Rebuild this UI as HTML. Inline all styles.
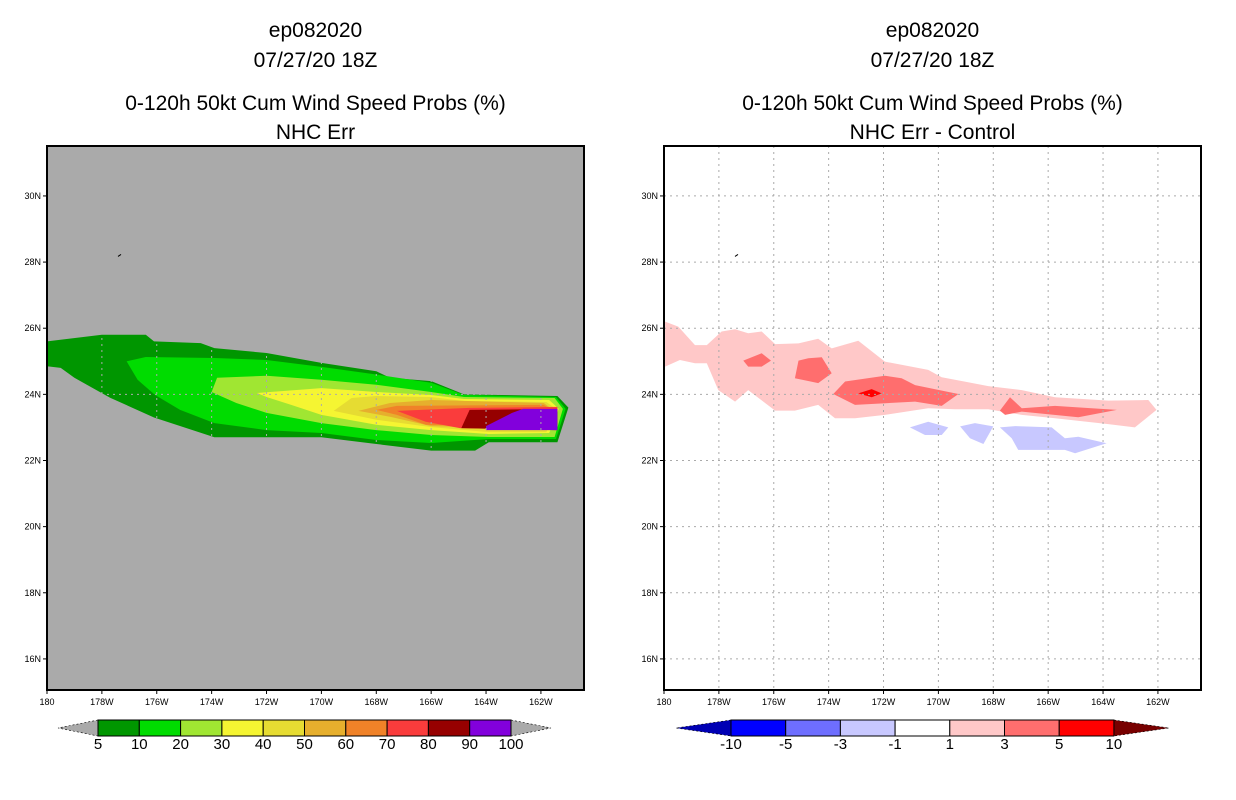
<!DOCTYPE html>
<html><head><meta charset="utf-8">
<style>
body{margin:0;background:#fff;}
svg{display:block;font-family:"Liberation Sans",sans-serif;}
.t{font-size:21px;fill:#000;text-anchor:middle;}
.ax{font-size:9px;fill:#000;}
.cb{font-size:15px;fill:#000;text-anchor:middle;}
</style></head>
<body>
<svg id="chart" width="1236" height="800" viewBox="0 0 1236 800"></svg>
<script>
// ---- axis data ----
const lonTicks = [-180,-178,-176,-174,-172,-170,-168,-166,-164,-162];
const lonTickLabels = ["180","178W","176W","174W","172W","170W","168W","166W","164W","162W"];
const latTicks = [16,18,20,22,24,26,28,30];
const latTickLabels = ["16N","18N","20N","22N","24N","26N","28N","30N"];
// ---- left panel: probability contours (lon, lat) ----
const probLevels = ["5","10","20","30","40","50","60","70","80","90","100"];
const probColors = ["#009600","#00dc00","#a0e632","#f5f532","#e6dc32","#e6af2d","#f08228","#fa3c3c","#960000","#8200dc"];
const prob5 = [[-180,25.6],[-178,25.8],[-176.4,25.8],[-176.1,25.6],[-174.4,25.55],[-173.9,25.4],[-172,25.25],[-170,24.95],[-168,24.7],[-167.5,24.5],[-166,24.4],[-164.8,24.0],[-161.4,23.95],[-161,23.6],[-161.4,22.55],[-163.9,22.55],[-164.4,22.3],[-166,22.3],[-168,22.5],[-170,22.7],[-172,22.7],[-173.9,22.7],[-176.1,23.3],[-177.7,23.9],[-179,24.5],[-179.5,24.8],[-180,24.85]];
const prob10 = [[-177.1,25.0],[-176.4,25.13],[-173.9,25.1],[-172,25.04],[-170,24.83],[-168,24.6],[-166,24.35],[-164.8,23.98],[-161.45,23.92],[-161.1,23.56],[-161.45,22.65],[-163.9,22.65],[-166,22.53],[-168,22.62],[-170,22.83],[-172,22.92],[-173.9,23.13],[-175.15,23.53],[-176.06,23.98],[-176.7,24.44]];
const prob20 = [[-173.8,24.5],[-172,24.56],[-170,24.44],[-168,24.29],[-166,24.07],[-164.8,23.92],[-161.5,23.89],[-161.2,23.56],[-161.5,22.71],[-163.9,22.71],[-166,22.77],[-168,22.92],[-170,23.13],[-172,23.44],[-173.1,23.74],[-174.0,24.07]];
const prob30 = [[-172.35,24.04],[-170,24.19],[-168,24.07],[-166,23.98],[-164.8,23.86],[-161.7,23.83],[-161.35,23.56],[-161.7,22.83],[-163.9,22.8],[-166,22.92],[-168,23.08],[-170,23.38],[-171.1,23.68],[-172,23.92]];
const prob40 = [[-169.55,23.5],[-168.9,23.89],[-168,23.95],[-166,23.92],[-164.8,23.8],[-161.8,23.77],[-161.45,23.56],[-161.8,22.86],[-163.9,22.86],[-166,23.01],[-168,23.23]];
const prob50 = [[-168.65,23.5],[-167.5,23.74],[-166,23.83],[-161.9,23.74],[-161.6,23.56],[-161.9,22.95],[-166,23.04],[-167.5,23.32]];
const prob60 = [[-168,23.53],[-167.25,23.65],[-161.9,23.68],[-161.65,23.56],[-161.9,23.01],[-166.2,23.08],[-167.25,23.38]];
const prob70 = [[-167.25,23.5],[-164.6,23.59],[-161.4,23.62],[-161.4,22.92],[-164.95,22.98],[-166.2,23.17]];
const prob80 = [[-164.6,23.53],[-161.4,23.56],[-161.4,22.92],[-164.9,22.98]];
const prob90 = [[-164.0,23.04],[-163.05,23.44],[-162.65,23.56],[-161.4,23.56],[-161.4,22.92],[-164.0,22.92]];
// ---- right panel: difference contours ----
const diffLevels = ["-10","-5","-3","-1","1","3","5","10"];
const diffColors = ["#0000b4","#0000ff","#6e6eff","#c8c8ff","#ffffff","#ffc8c8","#ff6e6e","#ff0000","#780000"];
const diffPos1 = [[-179.96,26.2],[-179.48,26.05],[-178.87,25.49],[-178.44,25.49],[-177.9,25.9],[-177.41,25.97],[-176.93,25.85],[-176.44,25.9],[-175.95,25.52],[-175.1,25.54],[-174.38,25.68],[-173.89,25.39],[-172.92,25.62],[-171.95,24.99],[-170.37,24.74],[-169.88,24.52],[-168.18,24.25],[-166.96,24.13],[-165.75,23.91],[-163.81,23.81],[-162.35,23.83],[-162.05,23.53],[-162.84,23.0],[-163.81,23.1],[-165.75,23.28],[-166.96,23.38],[-168.18,23.55],[-169.4,23.55],[-170.37,23.58],[-171.95,23.38],[-173.04,23.28],[-173.77,23.28],[-174.38,23.68],[-175.23,23.51],[-175.95,23.51],[-176.93,24.13],[-177.41,23.78],[-178.02,24.13],[-178.44,24.94],[-178.87,24.94],[-179.42,25.04],[-179.96,24.84]];
const diffPos3a = [[-177.11,25.02],[-176.44,25.24],[-176.1,25.02],[-176.44,24.84],[-176.93,24.84]];
const diffPos3b = [[-175.1,25.02],[-174.74,25.09],[-174.25,25.12],[-173.89,24.64],[-174.38,24.34],[-175.23,24.49]];
const diffPos3c = [[-173.83,24.01],[-173.4,24.39],[-171.95,24.56],[-171.34,24.49],[-170.85,24.28],[-169.27,24.01],[-169.88,23.65],[-170.85,23.78],[-173.04,23.68]];
const diffPos3d = [[-167.76,23.51],[-167.39,23.91],[-166.96,23.58],[-165.75,23.65],[-163.5,23.53],[-164.9,23.31],[-166.96,23.48],[-167.57,23.38]];
const diffPos5 = [[-172.92,24.03],[-172.43,24.16],[-172.07,24.03],[-172.43,23.91]];
const diffNegA = [[-171.04,23.0],[-170.37,23.17],[-169.64,23.0],[-169.88,22.77],[-170.49,22.77]];
const diffNegB = [[-169.21,23.03],[-168.67,23.13],[-168.0,23.03],[-168.36,22.5],[-168.85,22.67]];
const diffNegC = [[-167.76,23.0],[-167.21,23.04],[-165.87,23.0],[-165.39,22.67],[-164.9,22.72],[-163.87,22.52],[-165.02,22.22],[-165.39,22.32],[-167.09,22.32],[-167.33,22.67]];

const NS="http://www.w3.org/2000/svg";
const svg=document.getElementById('chart');
function el(tag,attrs,parent){const e=document.createElementNS(NS,tag);for(const k in attrs)e.setAttribute(k,attrs[k]);(parent||svg).appendChild(e);return e;}
const LON0=-180, LON1=-160.43, LAT0=15.06, LAT1=31.51, W=537, H=544, TOP=146;
function makeScales(x0){
  return {x:lon=>x0+(lon-LON0)/(LON1-LON0)*W, y:lat=>TOP+(LAT1-lat)/(LAT1-LAT0)*H};
}
function poly(pts,s,fill,name,g){
  const p=el('polygon',{points:pts.map(q=>s.x(q[0]).toFixed(1)+','+s.y(q[1]).toFixed(1)).join(' '),fill:fill},g);
  
  
}
function text(x,y,str,cls,name,g,anchor){
  const t=el('text',{x:x,y:y,class:cls},g);if(anchor)t.setAttribute('text-anchor',anchor);t.textContent=str;
  
  
  return t;
}
function panel(x0,bg,titles,polys,pname){
  const g=el('g',{});
  
  
  const s=makeScales(x0), cx=x0+W/2;
  text(cx,37,titles[0],'t','storm-id-title',g);
  text(cx,67,titles[1],'t','date-title',g);
  text(cx,110,titles[2],'t','product-title',g);
  text(cx,139,titles[3],'t','subtitle',g);
  const r=el('rect',{x:x0,y:TOP,width:W,height:H,fill:bg},g);
  
  
  polys.forEach(p=>poly(p[0],s,p[1],p[2],g));
  lonTicks.forEach((lo,i)=>{
    const x=s.x(lo);
    if(i>0){const l=el('line',{x1:x,x2:x,y1:TOP,y2:TOP+H,stroke:'#aaa','stroke-dasharray':'2,4'},g);
      }
    el('line',{x1:x,x2:x,y1:TOP+H,y2:TOP+H+4,stroke:'#000'},g);
    text(x,TOP+H+15,lonTickLabels[i],'ax','x-tick-label',g,'middle');
  });
  latTicks.forEach((la,i)=>{
    const y=s.y(la);
    const l=el('line',{x1:x0,x2:x0+W,y1:y,y2:y,stroke:'#aaa','stroke-dasharray':'2,4'},g);
    
    el('line',{x1:x0-4,x2:x0,y1:y,y2:y,stroke:'#000'},g);
    text(x0-6,y+3,latTickLabels[i],'ax','y-tick-label',g,'end');
  });
  el('line',{x1:x0+71,y1:s.y(28.2)+1,x2:x0+74,y2:s.y(28.2)-1,stroke:'#000'},g);
  const b=el('rect',{x:x0,y:TOP,width:W,height:H,fill:'none',stroke:'#000','stroke-width':2},g);
  
}
panel(47,'#aaaaaa',["ep082020","07/27/20 18Z","0-120h 50kt Cum Wind Speed Probs (%)","NHC Err"],
 [[prob5,probColors[0],'contour-5'],[prob10,probColors[1],'contour-10'],[prob20,probColors[2],'contour-20'],[prob30,probColors[3],'contour-30'],[prob40,probColors[4],'contour-40'],[prob50,probColors[5],'contour-50'],[prob60,probColors[6],'contour-60'],[prob70,probColors[7],'contour-70'],[prob80,probColors[8],'contour-80'],[prob90,probColors[9],'contour-90']],'left-panel');
panel(664,'#ffffff',["ep082020","07/27/20 18Z","0-120h 50kt Cum Wind Speed Probs (%)","NHC Err - Control"],
 [[diffPos1,diffColors[5],'diff-pos-1'],[diffPos3a,diffColors[6],'diff-pos-3'],[diffPos3b,diffColors[6],'diff-pos-3'],[diffPos3c,diffColors[6],'diff-pos-3'],[diffPos3d,diffColors[6],'diff-pos-3'],[diffPos5,diffColors[7],'diff-pos-5'],[diffNegA,diffColors[3],'diff-neg-1'],[diffNegB,diffColors[3],'diff-neg-1'],[diffNegC,diffColors[3],'diff-neg-1']],'right-panel');

function colorbar(x0,boxW,cols,labels,leftTri,rightTri,triW,name){
  const g=el('g',{});
  
  
  const y0=720,h=16,n=cols.length,x1=x0+n*boxW;
  el('polygon',{points:`${x0},${y0} ${x0-triW},${y0+h/2} ${x0},${y0+h}`,fill:leftTri,stroke:'#000','stroke-width':0.6,'stroke-dasharray':'2,2'},g);
  el('polygon',{points:`${x1},${y0} ${x1+triW},${y0+h/2} ${x1},${y0+h}`,fill:rightTri,stroke:'#000','stroke-width':0.6,'stroke-dasharray':'2,2'},g);
  cols.forEach((c,i)=>{const r=el('rect',{x:x0+i*boxW,y:y0,width:boxW,height:h,fill:c,stroke:'#000','stroke-width':1},g);
    });
  labels.forEach((l,i)=>text(x0+i*boxW,y0+h+13,l,'cb','colorbar-label',g));
}
colorbar(98,41.3,probColors,probLevels,'#aaaaaa','#aaaaaa',40,'left-colorbar');
colorbar(731,54.7,diffColors.slice(1,8),diffLevels,diffColors[0],diffColors[8],55,'right-colorbar');
</script>
</body></html>
